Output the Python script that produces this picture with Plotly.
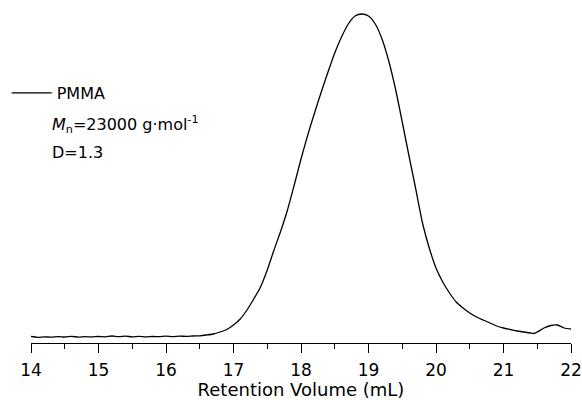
import plotly.graph_objects as go

# Retention volume (mL) and detector signal (arbitrary units)
volume = [14.0, 14.1, 14.2, 14.3, 14.4, 14.5, 14.6, 14.7, 14.8, 14.9,
          15.0, 15.1, 15.2, 15.3, 15.4, 15.5, 15.6, 15.7, 15.8, 15.9,
          16.0, 16.1, 16.2, 16.3, 16.4, 16.5, 16.6, 16.7, 16.8, 16.9,
          17.0, 17.1, 17.2, 17.3, 17.4, 17.5, 17.6, 17.7, 17.8, 17.9,
          18.0, 18.1, 18.2, 18.3, 18.4, 18.5, 18.6, 18.7, 18.8, 18.9,
          19.0, 19.1, 19.2, 19.3, 19.4, 19.5, 19.6, 19.7, 19.8, 19.9,
          20.0, 20.1, 20.2, 20.3, 20.4, 20.5, 20.6, 20.7, 20.8, 20.9,
          21.0, 21.1, 21.2, 21.3, 21.4, 21.45, 21.5, 21.6, 21.7, 21.8,
          21.9, 22.0]
signal = [0.5, -0.3, 0.2, -0.2, 0.4, 0.0, 0.6, -0.1, 0.3, 0.1,
          0.5, 0.2, 1.0, 0.3, 0.8, 0.2, 0.7, 0.1, 0.5, 0.4,
          0.8, 0.3, 0.9, 0.6, 1.0, 1.2, 2.0, 3.0, 5.0, 7.5,
          12, 18, 27, 38, 50, 67, 87, 106, 127, 152,
          178, 202, 224, 245, 265, 284, 300, 313, 321, 323,
          321, 313, 298, 276, 248, 215, 181, 148, 114, 89,
          69, 55, 44, 35, 29, 24, 20, 17, 14, 11,
          9, 7.5, 6, 5, 4, 3.5, 5, 9, 11.5, 12,
          9, 8]

series_name = "PMMA"
note_mn = "<i>M</i><sub>n</sub>=23000 g\u00b7mol<sup>-1</sup>"
note_d = "D=1.3"
x_title = "Retention Volume (mL)"
x_ticks = [14, 15, 16, 17, 18, 19, 20, 21, 22]

FONT = "DejaVu Sans"

fig = go.Figure()
fig.add_trace(go.Scatter(x=volume, y=signal, mode="lines", name=series_name,
                         line=dict(color="black", width=1.3, shape="spline", smoothing=0.6),
                         showlegend=True))

fig.update_layout(
    width=582, height=400,
    margin=dict(l=31, r=11, t=10, b=57, autoexpand=False),
    plot_bgcolor="white", paper_bgcolor="white",
    font=dict(family=FONT, color="black", size=16),
    showlegend=True,
    legend=dict(x=-0.045, y=0.751, xanchor="left", yanchor="middle",
                bgcolor="rgba(0,0,0,0)", font=dict(size=16, family=FONT),
                itemwidth=40),
    xaxis=dict(range=[14, 22], tickvals=x_ticks, ticktext=[str(t) for t in x_ticks],
               automargin=False,
               showline=True, linecolor="black", linewidth=1,
               ticks="outside", ticklen=9, tickwidth=1, tickcolor="black",
               ticklabelstandoff=3,
               minor=dict(dtick=0.5, ticks="outside", ticklen=5, tickwidth=1, tickcolor="black", showgrid=False),
               showgrid=False, zeroline=False,
               tickfont=dict(size=17, family=FONT),
               title=dict(text=x_title, font=dict(size=18, family=FONT), standoff=2)),
    yaxis=dict(range=[-6, 327], visible=False, showgrid=False, zeroline=False, automargin=False),
    annotations=[
        dict(text=note_mn, xref="paper", yref="paper", x=0.035, y=0.655,
             xanchor="left", yanchor="middle", showarrow=False, font=dict(size=16, family=FONT)),
        dict(text=note_d, xref="paper", yref="paper", x=0.035, y=0.571,
             xanchor="left", yanchor="middle", showarrow=False, font=dict(size=16, family=FONT)),
    ],
)

fig.write_html("out.html")
